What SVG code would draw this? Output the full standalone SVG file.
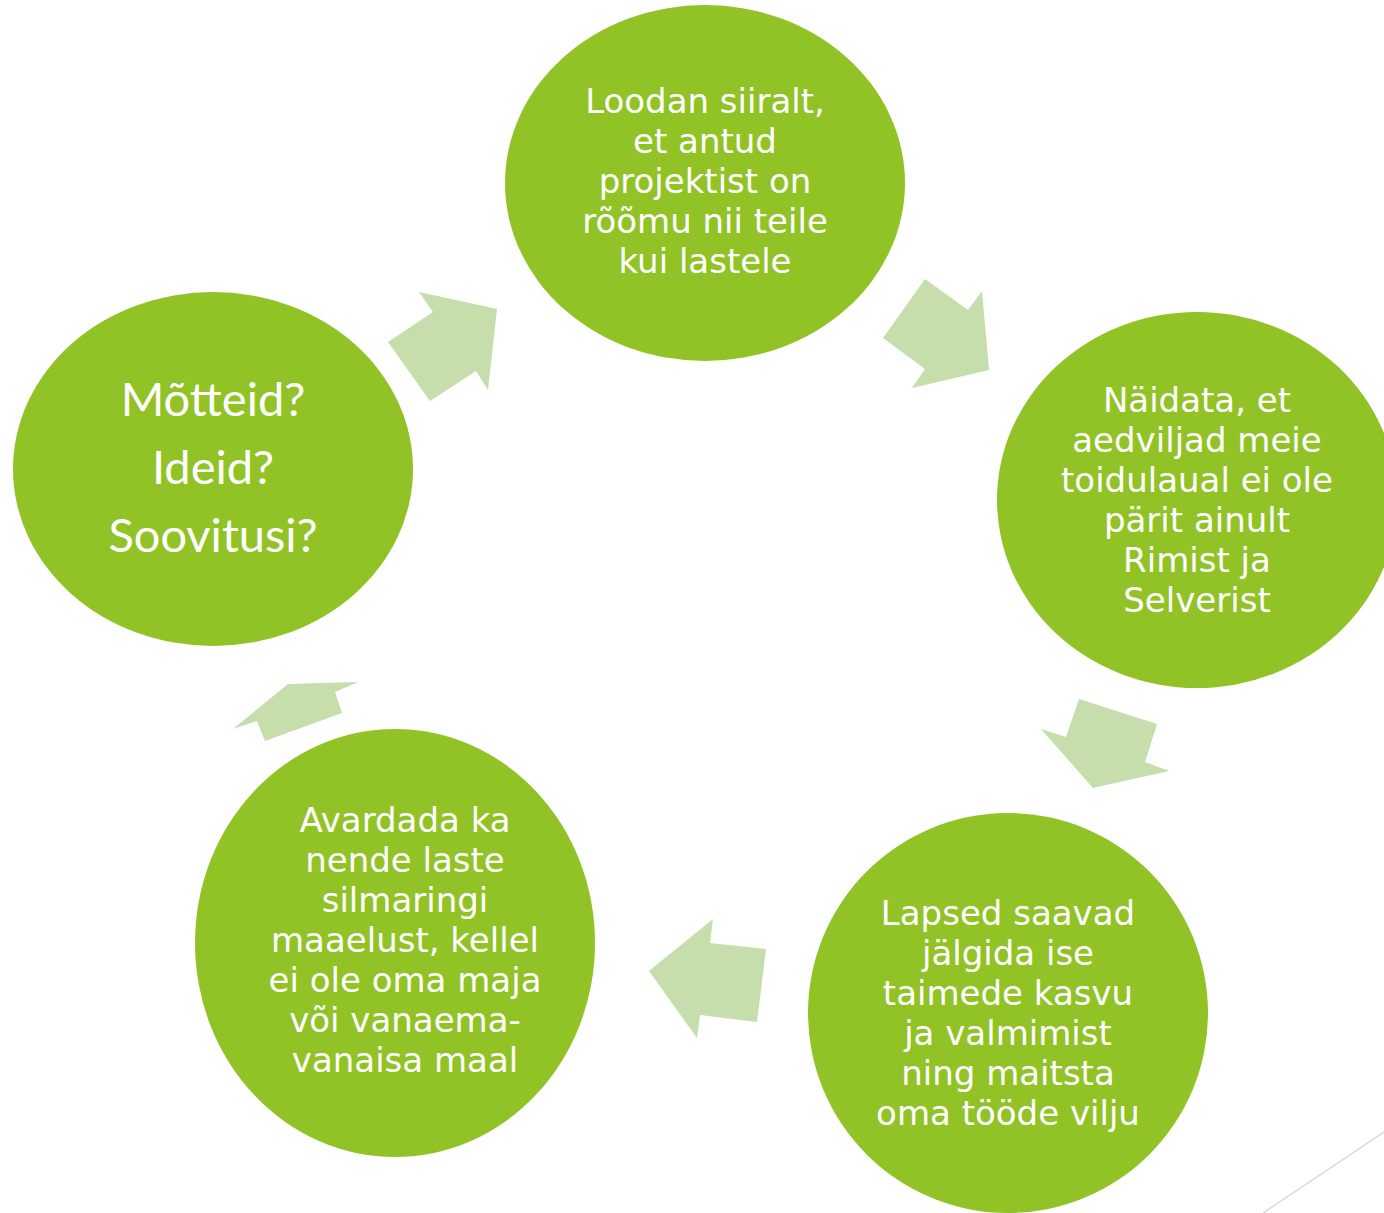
<svg xmlns="http://www.w3.org/2000/svg" width="1384" height="1213" viewBox="0 0 1384 1213">
<style>
.node{fill:#92C326}
.arr{fill:#C5DEAB}
.t{font-family:"DejaVu Sans","Noto Sans",sans-serif;font-size:34px;fill:#FFFFFF;text-anchor:middle}
.q{font-family:Lato,"Noto Sans",sans-serif;font-size:47px;fill:#FFFFFF;text-anchor:middle}
</style>
<rect width="1384" height="1213" fill="#FFFFFF"/>
<g id="connectors">
<polygon class="arr" points="388,342 433,312 419,292 497,309 488,390 476,371 430,401"/>
<polygon class="arr" points="925,279 968,310 982,291 989,370 912,388 925,369 883,338"/>
<polygon class="arr" points="1079,699 1157,724 1145,762 1169,771 1093,788 1041,729 1066,737"/>
<polygon class="arr" points="713,919 710,943 766,949 757,1022 700,1015 697,1038 649,971"/>
<polygon class="arr" points="358,682 335,692 342,713 265,741 257,721 233,729 288,684"/>
</g>
<g id="node-top">
<ellipse class="node" cx="705" cy="183" rx="200" ry="178"/>
<text class="t" x="705" y="113">Loodan siiralt,</text>
<text class="t" x="705" y="153">et antud</text>
<text class="t" x="705" y="193">projektist on</text>
<text class="t" x="705" y="233">rõõmu nii teile</text>
<text class="t" x="705" y="273">kui lastele</text>
</g>
<g id="node-right">
<ellipse class="node" cx="1197" cy="500" rx="200" ry="188"/>
<text class="t" x="1197" y="412">Näidata, et</text>
<text class="t" x="1197" y="452">aedviljad meie</text>
<text class="t" x="1197" y="492">toidulaual ei ole</text>
<text class="t" x="1197" y="532">pärit ainult</text>
<text class="t" x="1197" y="572">Rimist ja</text>
<text class="t" x="1197" y="612">Selverist</text>
</g>
<g id="node-bottom-right">
<ellipse class="node" cx="1008" cy="1013" rx="200" ry="200"/>
<text class="t" x="1008" y="925">Lapsed saavad</text>
<text class="t" x="1008" y="965">jälgida ise</text>
<text class="t" x="1008" y="1005">taimede kasvu</text>
<text class="t" x="1008" y="1045">ja valmimist</text>
<text class="t" x="1008" y="1085">ning maitsta</text>
<text class="t" x="1008" y="1125">oma tööde vilju</text>
</g>
<g id="node-bottom-left">
<ellipse class="node" cx="395" cy="943" rx="200" ry="214"/>
<text class="t" x="405" y="832">Avardada ka</text>
<text class="t" x="405" y="872">nende laste</text>
<text class="t" x="405" y="912">silmaringi</text>
<text class="t" x="405" y="952">maaelust, kellel</text>
<text class="t" x="405" y="992">ei ole oma maja</text>
<text class="t" x="405" y="1032">või vanaema-</text>
<text class="t" x="405" y="1072">vanaisa maal</text>
</g>
<g id="node-left">
<ellipse class="node" cx="213" cy="469" rx="200" ry="177"/>
<text class="q" x="213" y="416">Mõtteid?</text>
<text class="q" x="213" y="484">Ideid?</text>
<text class="q" x="213" y="552">Soovitusi?</text>
</g>
<line x1="1384" y1="1132" x2="1263" y2="1213" stroke="#D9D9D9" stroke-width="1.5"/>
</svg>
